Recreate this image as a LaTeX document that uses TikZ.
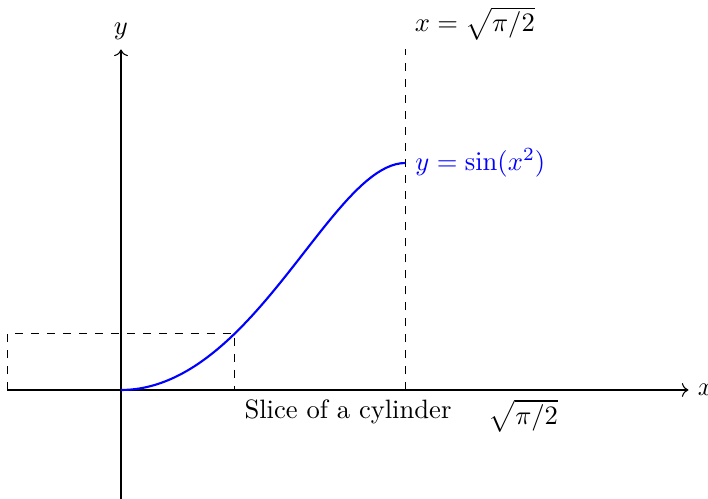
\documentclass[tikz,border=0pt]{standalone}
\usepackage{amsmath,amssymb}
\usetikzlibrary{arrows.meta,calc,positioning}
\tikzset {
  guide/.style={dashed},
}
\begin{document}
\begin{tikzpicture}[scale=3]
          \useasboundingbox (-0.533,-0.48) rectangle (2.586,1.718);
          \draw[->] (-1/2,0) -- (5/2,0) node[right] (xlab) {$x$};
          \draw[->] (0,-1/2) -- (0,3/2) node[above] (ylab) {$y$};
          \draw[guide] (-1/2,0) rectangle (1/2,{sin(1/4 r)});
          \draw[guide] ({sqrt(pi/2)},0) -- ({sqrt(pi/2)},3/2)
          node[above right] (asym) {$x = \sqrt{\pi/2}$};
          \draw[blue,thick,domain=0:1.2533,samples=60] plot (\x, {sin(\x*\x r)})
          node[right] (curve) {$y = \sin(x^2)$};
          \node[below] (slice) at (1,0) {Slice of a cylinder};
          \node[below] (root) at ({sqrt(pi)},0) {$\sqrt{\pi/2}$};
        \end{tikzpicture}
\end{document}
